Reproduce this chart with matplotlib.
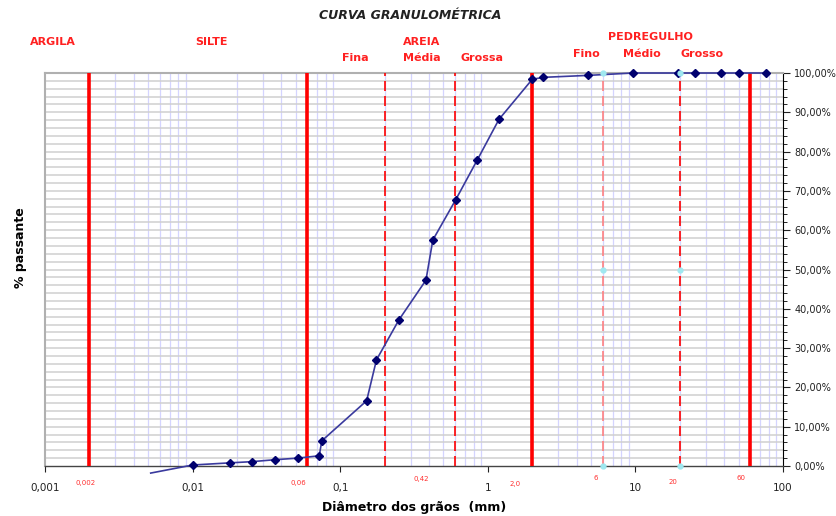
import numpy as np
import matplotlib.pyplot as plt
from matplotlib.ticker import FixedLocator, MultipleLocator, FuncFormatter

# sieve / sedimentation data (mm, % passing)
diam = [0.0052, 0.01, 0.0179, 0.0251, 0.0361, 0.0515, 0.0721, 0.075, 0.151, 0.176,
        0.25, 0.381, 0.424, 0.605, 0.849, 1.19, 2.0, 2.38, 4.8, 9.6,
        19.3, 25.4, 38.0, 50.4, 76.2]
passing = [-1.8, 0.25, 0.8, 1.1, 1.6, 2.0, 2.6, 6.4, 16.6, 27.0,
           37.2, 47.3, 57.5, 67.7, 77.9, 88.2, 98.4, 98.9, 99.4, 100.0,
           100.0, 100.0, 100.0, 100.0, 100.0]

# class limits (mm)
solid_limits = [0.002, 0.06, 2.0, 60]
dashed_limits = [0.2, 0.6, 20]
pale_limits = [6]
limit_labels = ['0,002', '0,06', '0,42', '2,0', '6', '20', '60']
limit_label_x = [0.00187, 0.052, 0.352, 1.53, 5.4, 18, 52]
limit_label_y = [-3.6, -3.6, -2.6, -3.8, -2.4, -3.2, -2.4]

decades = [0.001, 0.01, 0.1, 1, 10, 100]
decade_labels = ['0,001', '0,01', '0,1', '1', '10', '100']

fig = plt.figure(figsize=(8.37, 5.16), dpi=100)
ax = fig.add_axes([0.0538, 0.0969, 0.8817, 0.7616])
ax.set_xscale('log')
ax.set_xlim(0.001, 100)
ax.set_ylim(0, 100)

# grid
minor_x = [m * d for d in decades[:-1] for m in range(2, 10)]
for xv in minor_x:
    ax.axvline(xv, color='#d4d4ff', lw=0.9, zorder=1)
for yv in np.arange(2, 100, 2):
    ax.axhline(yv, color='#d0d0d0', lw=1.1, zorder=1)

for xv in solid_limits:
    ax.axvline(xv, color='#ff0000', lw=2.6, zorder=3)
for xv in dashed_limits:
    ax.axvline(xv, color='#ff0000', lw=1.2, ls=(0, (6, 3)), zorder=3)
for xv in pale_limits:
    ax.axvline(xv, color='#ff8080', lw=1.2, ls=(0, (6, 3)), zorder=3)

# curve
ax.plot(diam, passing, color='#3a3a9e', lw=1.2, zorder=5, clip_on=False)
ax.plot(diam[1:], passing[1:], ls='none', marker='D', ms=4, color='#00006e',
        zorder=6, clip_on=False)

# cyan helper marks on the 6 and 20 mm lines
for xv in [6, 20]:
    ax.plot([xv, xv, xv], [0, 50, 100], ls='none', marker='o', ms=3.5,
            color='#9fe8f0', zorder=7, clip_on=False)

# axes styling
for s in ['left', 'top']:
    ax.spines[s].set_color('#b0b0b0')
    ax.spines[s].set_linewidth(1.5)
ax.spines['right'].set_color('black')
ax.spines['bottom'].set_color('#444444')
ax.spines['bottom'].set_linewidth(1.0)

ax.yaxis.tick_right()
ax.yaxis.set_major_locator(MultipleLocator(10))
ax.yaxis.set_minor_locator(MultipleLocator(2))
ax.yaxis.set_major_formatter(FuncFormatter(lambda v, p: ('%.2f%%' % v).replace('.', ',')))
ax.tick_params(axis='y', which='major', length=5, labelsize=7, colors='#222222', pad=3)
ax.tick_params(axis='y', which='minor', length=3)

ax.xaxis.set_major_locator(FixedLocator(decades))
ax.xaxis.set_minor_locator(FixedLocator([]))
ax.set_xticklabels(decade_labels)
ax.tick_params(axis='x', which='major', length=4, labelsize=7.5, colors='#222222', pad=8)

for xv, yv, lab in zip(limit_label_x, limit_label_y, limit_labels):
    ax.text(xv, yv, lab, color='#ff3030', fontsize=5, ha='center', va='top')

ax.set_xlabel('Diâmetro dos grãos  (mm)', fontsize=9, fontweight='bold', labelpad=6)
fig.text(0.025, 0.52, '% passante', rotation=90, fontsize=9, fontweight='bold',
         ha='center', va='center')

fig.text(0.49, 0.97, 'CURVA GRANULOMÉTRICA', fontsize=9, fontweight='bold',
         style='italic', ha='center', va='center', color='#222222')

red = '#ff2020'
fig.text(0.063, 0.919, 'ARGILA', color=red, fontsize=8, fontweight='bold', ha='center', va='center')
fig.text(0.253, 0.919, 'SILTE', color=red, fontsize=8, fontweight='bold', ha='center', va='center')
fig.text(0.504, 0.919, 'AREIA', color=red, fontsize=8, fontweight='bold', ha='center', va='center')
fig.text(0.424, 0.888, 'Fina', color=red, fontsize=8, fontweight='bold', ha='center', va='center')
fig.text(0.504, 0.888, 'Média', color=red, fontsize=8, fontweight='bold', ha='center', va='center')
fig.text(0.576, 0.888, 'Grossa', color=red, fontsize=8, fontweight='bold', ha='center', va='center')
fig.text(0.777, 0.928, 'PEDREGULHO', color=red, fontsize=8, fontweight='bold', ha='center', va='center')
fig.text(0.700, 0.895, 'Fino', color=red, fontsize=8, fontweight='bold', ha='center', va='center')
fig.text(0.767, 0.895, 'Médio', color=red, fontsize=8, fontweight='bold', ha='center', va='center')
fig.text(0.839, 0.895, 'Grosso', color=red, fontsize=8, fontweight='bold', ha='center', va='center')

fig.savefig('out.png', dpi=100)
